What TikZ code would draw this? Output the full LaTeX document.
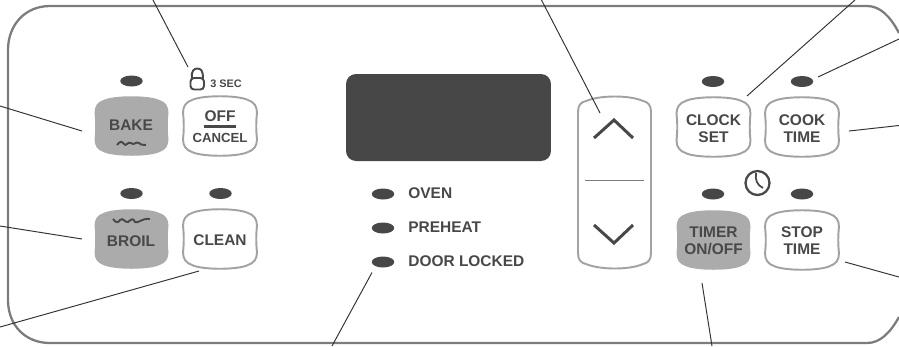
\documentclass[tikz,border=0pt]{standalone}
\usepackage{fontspec}
\setmainfont{Liberation Sans}
\usetikzlibrary{shapes.geometric}
\definecolor{txt}{HTML}{484848}
\definecolor{edge}{HTML}{A2A2A2}
\definecolor{frame}{HTML}{7C7C7C}
\definecolor{dark}{HTML}{474747}
\definecolor{btnfill}{HTML}{ABABAB}
\tikzset{
  lbl/.style={text=txt,font=\bfseries\fontsize{8.8}{9.7}\selectfont,align=center,inner sep=0pt},
  btnnode/.style={lbl,minimum width=1.5cm,minimum height=1.24cm},
  barrelline/.style={draw=edge,line width=1.1pt},
  led/.style={ellipse,fill=dark,minimum width=0.45cm,minimum height=0.22cm,inner sep=0pt},
  leader/.style={draw=black!80,line width=0.55pt},
  wave/.style={draw=txt,line width=1.1pt},
}
\newcommand{\barrel}[3]{%
  \path[shift={(#1,#2)},#3]
    (-37,-13) .. controls (-37,-20) and (-34,-24) .. (-28,-26)
    .. controls (-18,-31) and (18,-31) .. (28,-26)
    .. controls (34,-24) and (37,-20) .. (37,-13)
    .. controls (36,-5) and (36,5) .. (37,13)
    .. controls (37,20) and (34,24) .. (28,26)
    .. controls (18,31) and (-18,31) .. (-28,26)
    .. controls (-34,24) and (-37,20) .. (-37,13)
    .. controls (-36,5) and (-36,-5) .. (-37,-13) -- cycle;}
\begin{document}
\begin{tikzpicture}[x=0.02cm,y=-0.02cm]
\useasboundingbox (0,0) rectangle (899,346);
% panel
\draw[draw=frame,line width=1.3pt]
  (899,33) .. controls (890,16) and (880,6) .. (867,6) -- (50,6)
  .. controls (25,6) and (8,25) .. (8,50) -- (8,300)
  .. controls (8,325) and (25,343) .. (50,343) -- (867,343)
  .. controls (880,343) and (890,333) .. (899,317);
% display
\node[fill=dark,rounded corners=0.2cm,minimum width=4.1cm,minimum height=1.74cm,inner sep=0pt] (display) at (448.5,117.5) {};
% buttons
\barrel{131.5}{126}{fill=btnfill}
\barrel{220}{126}{barrelline,fill=white}
\barrel{131.5}{239}{fill=btnfill}
\barrel{220}{239}{barrelline,fill=white}
\barrel{713.5}{127}{barrelline,fill=white}
\barrel{802}{127}{barrelline,fill=white}
\barrel{713.5}{240}{fill=btnfill}
\barrel{802}{240}{barrelline,fill=white}
\node[btnnode] (bake) at (131.5,126) {};
\node[lbl] (baketext) at (131,125) {BAKE};
\draw[wave] (117,145) .. controls (120,141) and (122,141) .. (124,144) .. controls (126,147) and (128,141) .. (131,143) .. controls (134,146) and (136,141) .. (139,143) .. controls (142,146) and (144,144) .. (146,145);
\node[btnnode] (off) at (220,126) {};
\node[lbl] (offtext) at (220,116) {OFF};
\draw[draw=txt,line width=1.4pt] (204,126.5) -- (236,126.5);
\node[lbl,font=\bfseries\fontsize{7.5}{9}\selectfont] (canceltext) at (220,138) {CANCEL};
\node[btnnode] (broil) at (131.5,239) {};
\node[lbl] (broiltext) at (131,241) {BROIL};
\draw[wave] (113,219) .. controls (116,223) and (118,223) .. (120,220) .. controls (123,217) and (125,223) .. (128,222) .. controls (131,220) and (133,217) .. (135,222) .. controls (138,224) and (141,218) .. (150,219);
\node[btnnode] (clean) at (220,240) {CLEAN};
\node[btnnode] (clock) at (713.5,128.5) {CLOCK\\SET};
\node[btnnode] (cook) at (802,128.5) {COOK\\TIME};
\node[btnnode] (timer) at (713.5,240.5) {TIMER\\ON/OFF};
\node[btnnode] (stop) at (802,240.5) {STOP\\TIME};
% LEDs
\node[led] (ledbake) at (131.5,81) {};
\node[led] (ledbroil) at (131.5,193.5) {};
\node[led] (ledclean) at (220.5,193.5) {};
\node[led] (ledclock) at (713,81.5) {};
\node[led] (ledcook) at (802,81.5) {};
\node[led] (ledtimer) at (713,194) {};
\node[led] (ledstop) at (802,194) {};
\node[led] (ledoven) at (383,194) {};
\node[led] (ledpre) at (383,228) {};
\node[led] (leddoor) at (383,262) {};
\node[lbl,anchor=west] (oven) at (408,193) {OVEN};
\node[lbl,anchor=west] (preheat) at (408,227) {PREHEAT};
\node[lbl,anchor=west] (door) at (408,261) {DOOR LOCKED};
% lock
\coordinate (lock) at (197,79);
\draw[draw=txt,line width=1.1pt,rounded corners=2pt] (190.5,78) rectangle (204,89.5);
\draw[draw=txt,line width=1.1pt] (192,78) .. controls (191,71) and (194,68.5) .. (197.5,68.5) .. controls (201,68.5) and (203,71) .. (203,78);
\node[lbl,anchor=west,font=\bfseries\fontsize{6.2}{7}\selectfont] (sec) at (210,84) {3 SEC};
% arrows panel
\path[barrelline,fill=white]
  (578,112) .. controls (578,105) and (581,102) .. (586,101)
  .. controls (600,95) and (630,95) .. (643,101)
  .. controls (648,102) and (651,105) .. (651,112) -- (651,253)
  .. controls (651,260) and (648,263) .. (643,264)
  .. controls (630,270) and (600,270) .. (586,264)
  .. controls (581,263) and (578,260) .. (578,253) -- cycle;
\coordinate (divl) at (585,180.5);
\coordinate (divr) at (644,180.5);
\draw[draw=frame,line width=0.8pt] (divl) -- (divr);
\coordinate (upa) at (614,120);
\coordinate (upl) at (594,138);
\coordinate (upr) at (633,138);
\coordinate (dna) at (614,243);
\coordinate (dnl) at (594,225);
\coordinate (dnr) at (633,225);
\draw[draw=txt,line width=1.7pt] (upl) -- (upa) -- (upr);
\draw[draw=txt,line width=1.7pt] (dnl) -- (dna) -- (dnr);
% clock icon
\node[circle,draw=txt,line width=1.3pt,minimum size=0.48cm,inner sep=0pt] (clockicon) at (757.5,183) {};
\draw[draw=txt,line width=1pt] (756,173) .. controls (755,180) and (757,185) .. (763,188);
% free ends
\coordinate (f1) at (153,0);
\coordinate (f2) at (541.5,0);
\coordinate (f3) at (855,0);
\coordinate (f4) at (899,39);
\coordinate (f5) at (899,125.5);
\coordinate (f6) at (899,277);
\coordinate (f7) at (712,346);
\coordinate (f8) at (332,346);
\coordinate (f9) at (0,327);
\coordinate (f10) at (0,226);
\coordinate (f11) at (0,106);
% connectors
\draw[leader] (f1) -- ([shift={(-9,-12)}]lock);
\draw[leader] (f2) -- ([shift={(-14,-7)}]upa);
\draw[leader] (f3) -- ([shift={(33.5,-32.5)}]clock.center);
\draw[leader] (f4) -- ([shift={(16,-4.5)}]ledcook.center);
\draw[leader] (f5) -- ([shift={(47,2.5)}]cook.center);
\draw[leader] (f6) -- ([shift={(43,21.5)}]stop.center);
\draw[leader] (f7) -- ([shift={(-11.5,42.5)}]timer.center);
\draw[leader] (f8) -- ([shift={(-11,10.5)}]leddoor.center);
\draw[leader] (f9) -- ([shift={(-21,31)}]clean.center);
\draw[leader] (f10) -- ([shift={(-49.5,0)}]broil.center);
\draw[leader] (f11) -- ([shift={(-49.5,5)}]bake.center);
\end{tikzpicture}
\end{document}
